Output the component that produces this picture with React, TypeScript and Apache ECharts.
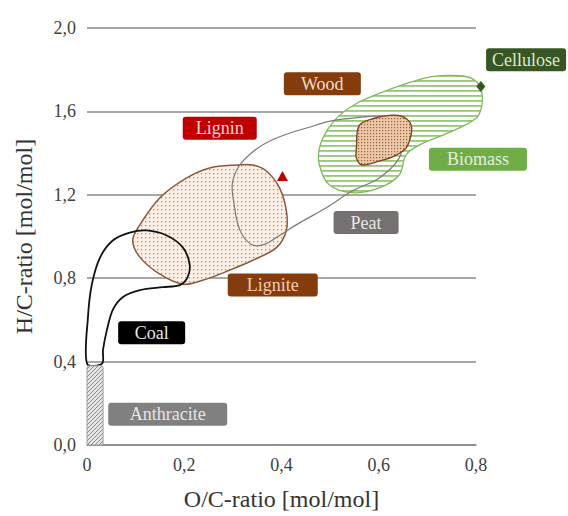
import { useEffect, useRef } from "react";
import * as echarts from "echarts";

// Axis ticks
const xTicks = [0, 0.2, 0.4, 0.6, 0.8];
const yTicks = [0, 0.4, 0.8, 1.2, 1.6, 2.0];

// Regions (O/C, H/C)
const coalOutline: number[][] = [
  [0.0, 0.39], [0.002, 0.614], [0.01, 0.771], [0.027, 0.9], [0.053, 0.981],
  [0.088, 1.019], [0.123, 1.029], [0.164, 1.005], [0.197, 0.948], [0.211, 0.867],
  [0.207, 0.805], [0.191, 0.767], [0.156, 0.757], [0.109, 0.743], [0.074, 0.71],
  [0.053, 0.648], [0.041, 0.552], [0.033, 0.457], [0.031, 0.39],
];
const ligniteRegion: number[][] = [
  [0.308, 1.343], [0.252, 1.329], [0.205, 1.281], [0.15, 1.186], [0.109, 1.057],
  [0.094, 0.981], [0.109, 0.9], [0.15, 0.819], [0.197, 0.771], [0.238, 0.79],
  [0.293, 0.838], [0.341, 0.886], [0.39, 0.948], [0.41, 1.029], [0.41, 1.124],
  [0.396, 1.233], [0.369, 1.314], [0.341, 1.343],
];
const peatRegion: number[][] = [
  [0.314, 1.343], [0.345, 1.414], [0.375, 1.457], [0.416, 1.495], [0.457, 1.524],
  [0.498, 1.552], [0.56, 1.571], [0.611, 1.576], [0.642, 1.543], [0.65, 1.471],
  [0.642, 1.376], [0.601, 1.281], [0.546, 1.219], [0.492, 1.138], [0.431, 1.057],
  [0.396, 1.005], [0.365, 0.962], [0.338, 0.962], [0.314, 1.033], [0.302, 1.162],
  [0.299, 1.257],
];
const biomassRegion: number[][] = [
  [0.478, 1.424], [0.478, 1.343], [0.498, 1.248], [0.546, 1.21], [0.601, 1.233],
  [0.642, 1.295], [0.656, 1.39], [0.683, 1.438], [0.751, 1.505], [0.8, 1.567],
  [0.812, 1.629], [0.81, 1.71], [0.792, 1.757], [0.765, 1.771], [0.71, 1.767],
  [0.656, 1.733], [0.601, 1.686], [0.554, 1.638], [0.519, 1.581], [0.494, 1.51],
];
const woodRegion: number[][] = [
  [0.554, 1.424], [0.56, 1.533], [0.591, 1.567], [0.622, 1.581], [0.648, 1.576],
  [0.665, 1.543], [0.667, 1.495], [0.656, 1.424], [0.632, 1.386], [0.601, 1.362],
  [0.566, 1.343], [0.554, 1.376],
];
const anthraciteRange: number[][] = [[0, 0], [0.033, 0.38]];
const cellulosePoint = [0.81, 1.72];
const ligninPoint = [0.402, 1.29];

// Region labels
const labelNames = ["Cellulose", "Wood", "Lignin", "Biomass", "Peat", "Lignite", "Coal", "Anthracite"];
const labelX = [0.903, 0.484, 0.273, 0.804, 0.574, 0.382, 0.133, 0.166];
const labelY = [1.848, 1.733, 1.519, 1.371, 1.067, 0.767, 0.538, 0.148];

// Styles for labels (not data)
const labelBoxWidth = [80, 77, 74, 98, 65, 90, 67, 119];
const labelBg = ["#375623", "#843c0c", "#c00000", "#70ad47", "#767171", "#843c0c", "#000000", "#808080"];
const labelFg = ["#d9e8cf", "#f4dccb", "#f6d6d6", "#e2efda", "#e6e6e6", "#f8cbad", "#e6e6e6", "#e6e6e6"];

const SERIF = "Liberation Serif";

function makePattern(w: number, h: number, draw: (ctx: CanvasRenderingContext2D) => void) {
  const c = document.createElement("canvas");
  c.width = w;
  c.height = h;
  const ctx = c.getContext("2d")!;
  draw(ctx);
  return { image: c, repeat: "repeat", imageWidth: w, imageHeight: h } as any;
}

export default function App() {
  const ref = useRef<HTMLDivElement>(null);
  useEffect(() => {
    if (!ref.current) return;
    const chart = echarts.init(ref.current, undefined, { renderer: "svg" });

    const dotPattern = makePattern(4, 4, (ctx) => {
      ctx.fillStyle = "#fcefe6";
      ctx.fillRect(0, 0, 4, 4);
      ctx.fillStyle = "#b98a6c";
      ctx.fillRect(1, 1, 1.3, 1.3);
    });
    const woodPattern = makePattern(3, 3, (ctx) => {
      ctx.fillStyle = "#ecc7a8";
      ctx.fillRect(0, 0, 3, 3);
      ctx.fillStyle = "#9a5f3c";
      ctx.fillRect(1, 1, 1.2, 1.2);
    });
    const stripePattern = makePattern(4, 5, (ctx) => {
      ctx.fillStyle = "#ffffff";
      ctx.fillRect(0, 0, 4, 5);
      ctx.fillStyle = "#95c976";
      ctx.fillRect(0, 0, 4, 1.8);
    });
    const hatchPattern = makePattern(4, 4, (ctx) => {
      ctx.fillStyle = "#e6e6e6";
      ctx.fillRect(0, 0, 4, 4);
      ctx.strokeStyle = "#8a8a8a";
      ctx.lineWidth = 1;
      ctx.beginPath();
      ctx.moveTo(0, 4);
      ctx.lineTo(4, 0);
      ctx.moveTo(-1, 1);
      ctx.lineTo(1, -1);
      ctx.moveTo(3, 5);
      ctx.lineTo(5, 3);
      ctx.stroke();
    });

    const region = (pts: number[][], fill: any, stroke: string, lineWidth: number, z: number, smooth = 0.35) => ({
      type: "custom",
      coordinateSystem: "cartesian2d",
      silent: true,
      clip: false,
      z,
      data: [[0, 0]],
      renderItem: (_p: any, api: any) => ({
        type: "polygon",
        shape: { points: pts.map((p) => api.coord(p)), smooth },
        style: { fill, stroke, lineWidth },
      }),
    });

    const fmt = (v: number) => (v === 0 ? "0" : v.toFixed(1).replace(".", ","));

    chart.setOption({
      animation: false,
      textStyle: { fontFamily: SERIF },
      grid: { left: 87, right: 92, top: 28, bottom: 67 },
      xAxis: {
        type: "value",
        min: xTicks[0],
        max: xTicks[xTicks.length - 1],
        interval: 0.2,
        name: "O/C-ratio [mol/mol]",
        nameLocation: "middle",
        nameGap: 42,
        nameTextStyle: { fontFamily: SERIF, fontSize: 24, color: "#333" },
        axisLine: { show: true, lineStyle: { color: "#8a8a8a", width: 1.5 } },
        axisTick: { show: false },
        splitLine: { show: false },
        axisLabel: { fontFamily: SERIF, fontSize: 18, color: "#404040", margin: 11, formatter: (v: number) => fmt(v) },
      },
      yAxis: {
        type: "value",
        min: yTicks[0],
        max: yTicks[yTicks.length - 1],
        interval: 0.4,
        name: "H/C-ratio [mol/mol]",
        nameLocation: "middle",
        nameGap: 51,
        nameTextStyle: { fontFamily: SERIF, fontSize: 24, color: "#333" },
        axisLine: { show: false },
        axisTick: { show: false },
        splitLine: { show: true, lineStyle: { color: "#8a8a8a", width: 1.5 } },
        axisLabel: { fontFamily: SERIF, fontSize: 18, color: "#404040", margin: 11, formatter: (v: number) => v.toFixed(1).replace(".", ",") },
      },
      series: [
        region(biomassRegion, stripePattern, "#7dbb5a", 1.3, 2),
        region(ligniteRegion, dotPattern, "#8d5a3c", 1.5, 3),
        region(peatRegion, "none", "#7a7a7a", 1.2, 4),
        region(coalOutline, "none", "#111111", 1.8, 5, 0.3),
        region(woodRegion, woodPattern, "#7a4424", 1.4, 6),
        {
          type: "custom",
          coordinateSystem: "cartesian2d",
          silent: true,
          clip: false,
          z: 6,
          data: [[0, 0]],
          renderItem: (_p: any, api: any) => {
            const a = api.coord([anthraciteRange[0][0], anthraciteRange[1][1]]);
            const b = api.coord([anthraciteRange[1][0], anthraciteRange[0][1]]);
            return {
              type: "rect",
              shape: { x: a[0], y: a[1], width: b[0] - a[0], height: b[1] - a[1], r: 2 },
              style: { fill: hatchPattern, stroke: "#9a9a9a", lineWidth: 1 },
            };
          },
        },
        {
          type: "scatter",
          silent: true,
          clip: false,
          z: 7,
          itemStyle: { opacity: 1 },
          data: [
            { value: cellulosePoint, symbol: "diamond", symbolSize: [9, 11], itemStyle: { color: "#375623", opacity: 1 } },
            { value: ligninPoint, symbol: "triangle", symbolSize: [11, 10], itemStyle: { color: "#c00000", opacity: 1 } },
          ],
        },
        {
          type: "scatter",
          silent: true,
          clip: false,
          z: 8,
          symbolSize: 0,
          itemStyle: { opacity: 1 },
          label: { show: true, fontFamily: SERIF, fontSize: 18 },
          data: labelNames.map((n, i) => ({
            name: n,
            value: [labelX[i], labelY[i]],
            itemStyle: { opacity: 1 },
            label: {
              show: true,
              position: "inside",
              formatter: n,
              fontFamily: SERIF,
              fontSize: 18,
              lineHeight: 18,
              color: labelFg[i],
              backgroundColor: labelBg[i],
              borderRadius: 3,
              padding: [3, 0, 2, 0],
              width: labelBoxWidth[i],
              align: "center",
            },
          })),
        },
      ],
    } as any);
    return () => chart.dispose();
  }, []);
  return <div ref={ref} style={{ position: "fixed", left: 0, top: 0, width: 568, height: 516, background: "#fff" }} />;
}
